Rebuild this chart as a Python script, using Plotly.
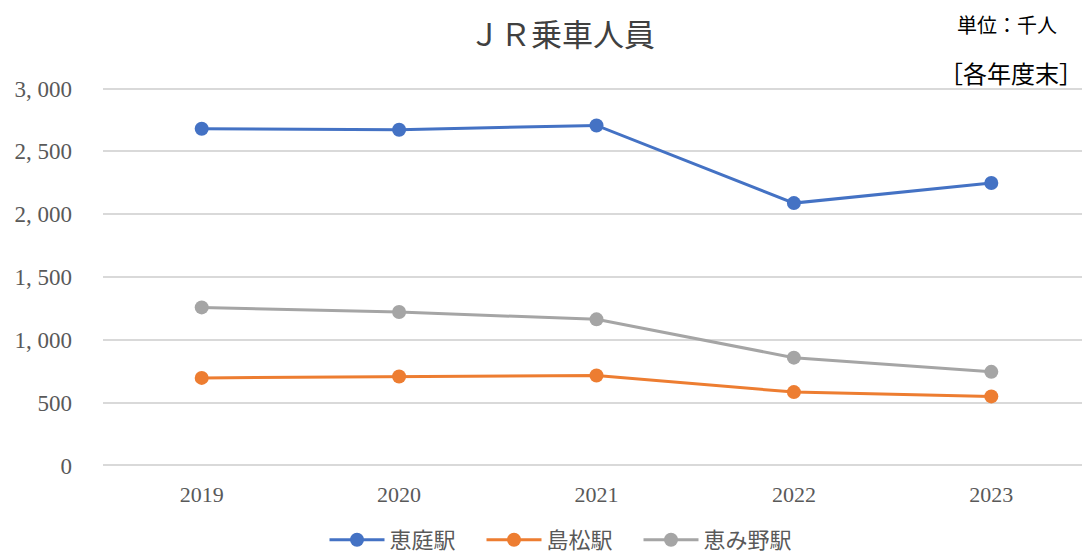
import plotly.graph_objects as go

# JR乗車人員（千人）
years = ["2019", "2020", "2021", "2022", "2023"]
eniwa = [2680, 2672, 2706, 2088, 2248]
shimamatsu = [697, 708, 716, 584, 550]
megumino = [1258, 1221, 1163, 858, 745]

y_ticks = [0, 500, 1000, 1500, 2000, 2500, 3000]
y_tick_text = ["0", "500", "1, 000", "1, 500", "2, 000", "2, 500", "3, 000"]

series = [
    ("恵庭駅", eniwa, "#4472c4"),
    ("島松駅", shimamatsu, "#ed7d31"),
    ("恵み野駅", megumino, "#a5a5a5"),
]

serif = "Liberation Serif, DejaVu Serif, serif"
jp = "Noto Sans CJK JP, sans-serif"

# the page puts the figure 8px in from the top-left corner
OFF = 8
W, H = 1090 - OFF, 554 - OFF
L, T, B = 103 - OFF, 87 - OFF, 554 - 467
PW, PH = W - L, H - T - B


def px_x(x):
    return (x - OFF - L) / PW


def px_y(y):
    return (H - B - (y - OFF)) / PH


fig = go.Figure()
for name, vals, col in series:
    fig.add_trace(go.Scatter(
        x=years, y=vals, name=name, mode="lines+markers",
        line=dict(color=col, width=3),
        marker=dict(color=col, size=14),
    ))

fig.update_layout(
    width=W, height=H,
    paper_bgcolor="white", plot_bgcolor="white",
    margin=dict(l=L, r=0, t=T, b=B, autoexpand=False),
    title=dict(text="ＪＲ乗車人員", x=(562 - OFF) / W, xanchor="center", xref="container",
               yref="container", y=1 - (35 - OFF) / H, yanchor="middle",
               font=dict(family=jp, size=31, color="#404040")),
    showlegend=True,
    legend=dict(orientation="h", x=px_x(560), xanchor="center",
                y=px_y(540), yanchor="middle", entrywidth=87,
                font=dict(family=jp, size=22, color="#595959"), itemwidth=55),
    annotations=[
        dict(text="単位：千人", xref="paper", yref="paper", x=px_x(1059), y=px_y(25),
             xanchor="right", yanchor="middle", showarrow=False,
             font=dict(family=jp, size=20, color="#000000")),
        dict(text="［各年度末］", xref="paper", yref="paper", x=px_x(1085), y=px_y(72),
             xanchor="right", yanchor="middle", showarrow=False,
             font=dict(family=jp, size=24, color="#000000")),
    ],
)
fig.update_xaxes(
    type="category", range=[-0.5, 4.5], showgrid=False, zeroline=False,
    showline=False, ticks="", automargin=False, ticklabelstandoff=12,
    tickfont=dict(family=serif, size=22, color="#595959"),
)
fig.update_yaxes(
    range=[-12, 3012], tickvals=y_ticks, ticktext=y_tick_text,
    showgrid=True, gridcolor="#d9d9d9", gridwidth=2, zeroline=False,
    showline=False, ticks="", ticklabelstandoff=30, automargin=False,
    tickfont=dict(family=serif, size=23, color="#595959"),
)

fig.write_html("out.html")
